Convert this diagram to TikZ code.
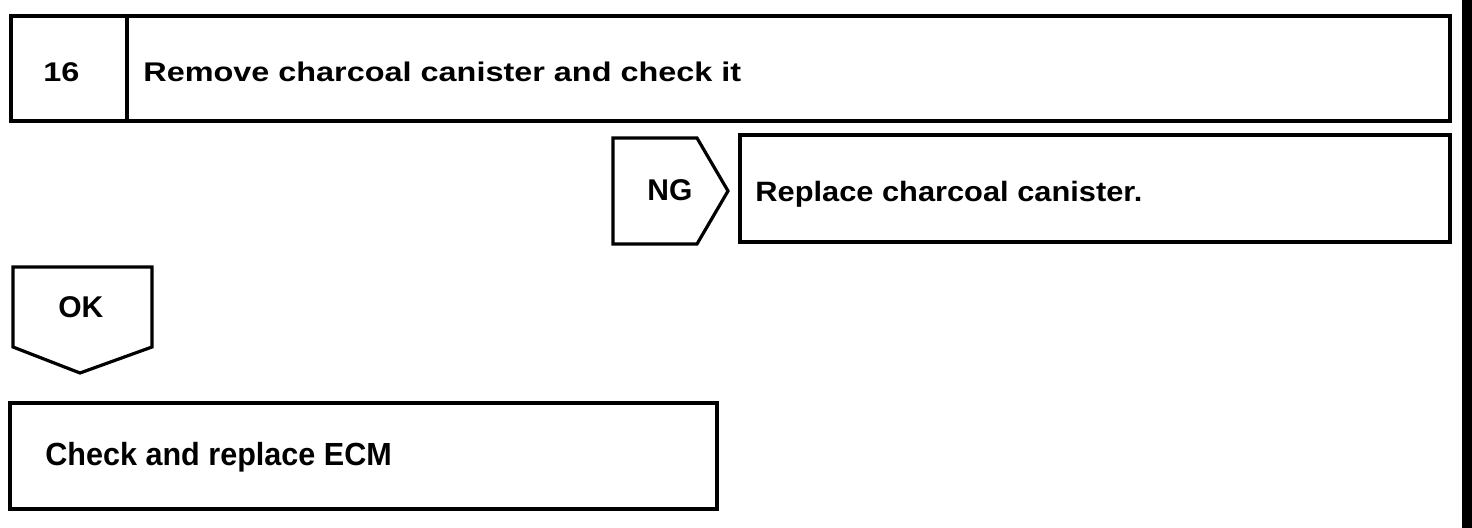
\documentclass[tikz,border=0pt]{standalone}
\usepackage{fontspec}
\setmainfont{Liberation Sans}
\usepackage{graphicx}
\tikzset{
  box/.style={draw=black, line width=1.6pt, line join=miter},
  lbl/.style={anchor=base west, inner sep=0pt},
  fttitle/.style={font=\bfseries\fontsize{13.5}{16}\selectfont},
  ftarrow/.style={font=\bfseries\fontsize{15}{18}\selectfont},
  ftrep/.style={font=\bfseries\fontsize{14}{17}\selectfont},
  ftecm/.style={font=\bfseries\fontsize{16}{19}\selectfont}
}
\begin{document}
\begin{tikzpicture}[x=0.5pt,y=-0.5pt]
\useasboundingbox (0,0) rectangle (1472,528);
\fill[black] (1462,0) rectangle (1472,528);
% step 16 header
\draw[box] (11,16) rectangle (1450,121);
\draw[box] (127,16) -- (127,121);
\node[lbl,fttitle] (num) at (43,82) {\scalebox{1.2}[1]{16}};
\node[lbl,fttitle] (title) at (143,82) {\scalebox{1.2}[1]{Remove charcoal canister and check it}};
% NG branch
\draw[box] (613,138) -- (697,138) -- (728,191) -- (697,244) -- (613,244) -- cycle;
\node[lbl,ftarrow] (ng) at (647,201) {NG};
\draw[box] (740,135) rectangle (1450,242);
\node[lbl,ftrep] (rep) at (755,202) {\scalebox{1.1}[1]{Replace charcoal canister.}};
% OK branch
\draw[box] (13,267) -- (152,267) -- (152,347) -- (80,373) -- (13,347) -- cycle;
\node[lbl,ftarrow] (ok) at (58,318) {OK};
\draw[box] (10,403) rectangle (717,509);
\node[lbl,ftecm] (ecm) at (45,466) {\scalebox{0.955}[1]{Check and replace ECM}};
\end{tikzpicture}
\end{document}
